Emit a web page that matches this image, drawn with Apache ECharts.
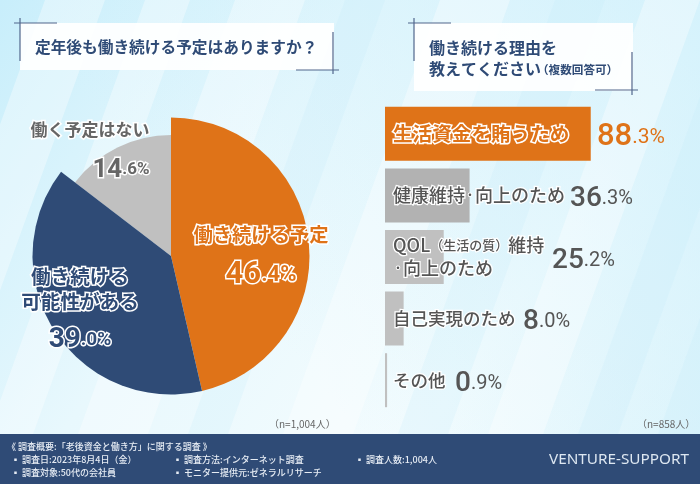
<!DOCTYPE html>
<html>
<head>
    <meta charset="utf-8">
    <title>老後資金と働き方に関する調査</title>
    <script src="https://cdn.jsdelivr.net/npm/echarts@6/dist/echarts.min.js"></script>
    <style>
        html, body { margin: 0; padding: 0; background: #eaf8fd; }
        #main { width: 700px; height: 484px; }
    </style>
</head>
<body>
<div id="main"></div>
<script type="text/javascript">
    // データ
    var pieNames = ['働き続ける予定', '働き続ける\n可能性がある', '働く予定はない'];
    var pieValues = [46.4, 39.0, 14.6];
    var barNames = ['生活資金を賄うため', '健康維持\u30FB向上のため', 'QOL\uFF08生活の質\uFF09維持\n\u30FB向上のため', '自己実現のため', 'その他'];
    var barValues = [88.3, 36.3, 25.2, 8.0, 0.9];

    var NAVY = '#2f4b76', ORANGE = '#df7318', GRAY = '#c0c0c0', TEXT = '#555555';
    var JP = '"Noto Sans CJK JP", sans-serif';
    var NUM = 'Roboto, "Noto Sans", sans-serif';

    var myChart = echarts.init(document.getElementById('main'));

    // 88.3 -> {big|88}{small|.3%}
    function percentText(v) {
        var parts = v.toFixed(1).split('.');
        return '{big|' + parts[0] + '}{small|.' + parts[1] + '%}';
    }

    function textStyle(size, fill, weight, stroke, strokeWidth, font, lineHeight) {
        return {
            fontSize: size, color: fill, fontWeight: weight, fontFamily: font || JP,
            textBorderColor: stroke || 'transparent', textBorderWidth: strokeWidth || 0,
            lineHeight: lineHeight || size + 6
        };
    }

    // 円グラフのラベル
    var pieLabelStyle = [
        { color: ORANGE, nameSize: 19.3, lh: 26, vlh: 54, big: 31, small: 22, x: 261, y: 262, valueAlign: 'center' },
        { color: NAVY, nameSize: 19.6, lh: 25, vlh: 51, big: 28, small: 19, x: 80, y: 315, valueAlign: 'center' },
        { color: '#666666', nameSize: 17, lh: 24, vlh: 56, big: 26, small: 17, x: 90, y: 158, valueAlign: 'right' }
    ];

    function pieItems(visibleIndex) {
        return pieValues.map(function (v, i) {
            var colors = [ORANGE, NAVY, GRAY];
            var show = visibleIndex.indexOf(i) >= 0;
            var s = pieLabelStyle[i];
            var big = textStyle(s.big, s.color, 700, '#ffffff', 3, NUM, s.vlh);
            var small = textStyle(s.small, s.color, 700, '#ffffff', 3, NUM, s.vlh);
            big.align = s.valueAlign;
            small.align = s.valueAlign;
            return {
                name: pieNames[i],
                value: v,
                itemStyle: { color: show ? colors[i] : 'rgba(0,0,0,0)' },
                label: {
                    rich: {
                        name: textStyle(s.nameSize, s.color, 700, '#ffffff', 3, JP, s.lh),
                        big: big,
                        small: small
                    }
                }
            };
        });
    }

    var pieLabel = {
        show: true,
        position: 'inside',
        align: 'center',
        formatter: function (p) {
            var lines = p.name.split('\n').map(function (t) { return '{name|' + t + '}'; });
            return lines.join('\n') + '\n' + percentText(p.value);
        }
    };

    // 棒グラフの項目名: 括弧と中黒だけ小さくする
    function barNameText(name) {
        return name.split('\n').map(function (t) {
            return '{name|' + t.replace(/\uFF08(.*)\uFF09/, '}{paren|\uFF08$1\uFF09}{name|').replace('\u30FB', '}{dot|\u30FB}{name|') + '}';
        }).join('\n');
    }

    var option = {
        animation: false,
        backgroundColor: 'transparent',
        grid: { left: 385, top: 103, width: 233, height: 308 },
        xAxis: { type: 'value', min: 0, max: 100, show: false },
        yAxis: { type: 'category', data: barNames, inverse: true, show: false },
        series: [
            {
                type: 'pie', z: 2, silent: true,
                center: [171, 256], radius: [0, 121], startAngle: 90,
                label: { show: false }, labelLine: { show: false },
                data: pieItems([2])
            },
            {
                type: 'pie', z: 3, silent: true,
                center: [171, 256], radius: [0, 138.5], startAngle: 90,
                label: pieLabel, labelLine: { show: false },
                labelLayout: function (p) {
                    var s = pieLabelStyle[p.dataIndex];
                    return { x: s.x, y: s.y, align: 'center', verticalAlign: 'middle' };
                },
                data: pieItems([0, 1])
            },
            {
                type: 'bar', barWidth: 54, barGap: '-100%', z: 3, silent: true,
                data: barValues.map(function (v, i) {
                    var first = i === 0;
                    var fill = first ? ORANGE : TEXT;
                    var size = first ? 19.6 : (i < 3 ? 18 : 17.5);
                    return {
                        value: v,
                        itemStyle: { color: first ? ORANGE : (i === 1 ? '#b2b2b2' : GRAY) },
                        label: {
                            show: true,
                            position: [8, '50%'],
                            verticalAlign: 'middle',
                            align: 'left',
                            formatter: function () { return barNameText(barNames[i]); },
                            rich: {
                                name: textStyle(size, fill, first ? 700 : 500, '#ffffff', first ? 3 : 2.5, JP, 23),
                                paren: textStyle(13, fill, 500, '#ffffff', 2.5, JP, 23),
                                dot: textStyle(10, fill, 700, '#ffffff', 2, JP, 23)
                            }
                        }
                    };
                })
            },
            {
                // 数値ラベル用の透明な棒
                type: 'bar', barWidth: 54, z: 4, silent: true,
                itemStyle: { color: 'rgba(0,0,0,0)' },
                data: barValues.map(function (v, i) {
                    var labelLeft = [212, 185, 167, 138, 70];
                    var c = i === 0 ? ORANGE : TEXT;
                    return {
                        value: v,
                        label: {
                            show: true,
                            position: [labelLeft[i], '57%'],
                            verticalAlign: 'middle',
                            align: 'left',
                            formatter: function (p) { return percentText(p.value); },
                            rich: {
                                big: textStyle(i === 0 ? 31 : 28, c, 500, null, 0, NUM, 32),
                                small: textStyle(i === 0 ? 21 : 20, c, 400, null, 0, NUM, 32)
                            }
                        }
                    };
                })
            }
        ],
        graphic: { elements: buildGraphic() }
    };

    function stripe(x, w, fill) {
        // 右上がりの斜めストライプ
        return {
            type: 'polygon', z: -5, silent: true,
            shape: { points: [[x, 484], [x + w, 484], [x + w + 175, 0], [x + 175, 0]] },
            style: { fill: fill }
        };
    }

    function line(x1, y1, x2, y2) {
        return {
            type: 'line', z: 1, silent: true,
            shape: { x1: x1, y1: y1, x2: x2, y2: y2 },
            style: { stroke: '#50668c', lineWidth: 1.2 }
        };
    }

    function txt(x, y, text, size, color, weight, extra) {
        var style = {
            x: x, y: y, text: text, fontSize: size, fill: color, fontWeight: weight || 400,
            fontFamily: JP, verticalAlign: 'middle', align: 'left'
        };
        for (var k in extra) { style[k] = extra[k]; }
        return { type: 'text', z: 6, silent: true, style: style };
    }

    function buildGraphic() {
        var white = 'rgba(255,255,255,0.35)', blue = 'rgba(190,232,248,0.18)';
        var els = [
            {
                type: 'rect', z: -10, silent: true,
                shape: { x: 0, y: 0, width: 700, height: 484 },
                style: {
                    fill: new echarts.graphic.LinearGradient(0, 0, 1, 1, [
                        { offset: 0, color: '#c8eefb' },
                        { offset: 0.35, color: '#e8f8fd' },
                        { offset: 0.7, color: '#f4fcfe' },
                        { offset: 1, color: '#e6f7fc' }
                    ])
                }
            },
            {
                type: 'rect', z: -9, silent: true,
                shape: { x: 0, y: 0, width: 700, height: 484 },
                style: {
                    fill: new echarts.graphic.LinearGradient(1, 0, 0.4, 0.7, [
                        { offset: 0, color: 'rgba(200,238,251,0.7)' },
                        { offset: 1, color: 'rgba(200,238,251,0)' }
                    ])
                }
            },
            stripe(-130, 60, white), stripe(-30, 45, white), stripe(60, 70, white),
            stripe(170, 40, blue), stripe(265, 70, white), stripe(380, 50, blue),
            stripe(470, 55, white), stripe(560, 40, blue), stripe(640, 60, blue)
        ];
        // 見出しの枠
        els.push(
            { type: 'rect', z: 0, silent: true, shape: { x: 20, y: 23, width: 314, height: 47 }, style: { fill: 'rgba(255,255,255,0.92)' } },
            { type: 'rect', z: 0, silent: true, shape: { x: 414, y: 23, width: 219, height: 68 }, style: { fill: 'rgba(255,255,255,0.92)' } },
            line(14, 23, 57, 23), line(20, 18, 20, 61), line(333, 32, 333, 74), line(296, 70, 339, 70),
            line(408, 23, 451, 23), line(414, 18, 414, 61), line(632, 52, 632, 95), line(595, 90, 638, 90)
        );
        els.push(
            txt(35, 47, '定年後も働き続ける予定はありますか\uFF1F', 15.7, NAVY, 700),
            txt(429, 48, '働き続ける理由を', 16, NAVY, 700),
            txt(429, 69, '教えてください', 16, NAVY, 700),
            txt(537, 70, '\uFF08複数回答可\uFF09', 11.6, NAVY, 700),
            txt(269, 424, '\uFF08n=1,004人\uFF09', 10, '#666666'),
            txt(637, 424, '\uFF08n=858人\uFF09', 10, '#666666')
        );
        // フッター
        var fc = '#e6ecf4';
        els.push(
            { type: 'rect', z: 5, silent: true, shape: { x: 0, y: 434, width: 700, height: 50 }, style: { fill: NAVY } },
            txt(7, 447, '《 調査概要:「老後資金と働き方」に関する調査 》', 9, fc, 500),
            txt(11, 460, '▪ 調査日:2023年8月4日\uFF08金\uFF09', 9, fc, 500),
            txt(11, 473, '▪ 調査対象:50代の会社員', 9, fc, 500),
            txt(173, 460, '▪ 調査方法:インターネット調査', 9, fc, 500),
            txt(173, 473, '▪ モニター提供元:ゼネラルリサーチ', 9, fc, 500),
            txt(355, 460, '▪ 調査人数:1,004人', 9, fc, 500),
            txt(549, 460, 'VENTURE-SUPPORT', 15.3, '#dde7f1', 400, { fontFamily: '"Noto Sans", sans-serif' })
        );
        return els;
    }

    myChart.setOption(option);
</script>
</body>
</html>
